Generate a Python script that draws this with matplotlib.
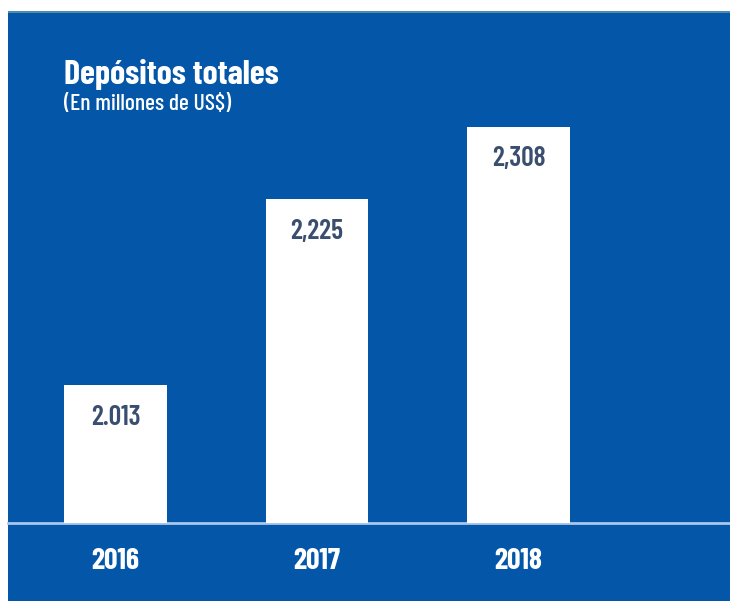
import matplotlib.pyplot as plt
from matplotlib.patches import Rectangle

years = ['2016', '2017', '2018']
deposits = [2013, 2225, 2308]
value_labels = ['2.013', '2,225', '2,308']

blue = '#0456a8'
plt.rcParams['font.family'] = ['Barlow Condensed', 'DejaVu Sans']
fig = plt.figure(figsize=(7.3, 6.01), dpi=100, facecolor='white')

# blue panel with thin line on top
fig.patches.append(Rectangle((8 / 730, 0), 722 / 730, 590 / 601, transform=fig.transFigure,
                             facecolor=blue, edgecolor='none', zorder=-2))
fig.patches.append(Rectangle((8 / 730, 588 / 601), 722 / 730, 2 / 601, transform=fig.transFigure,
                             facecolor='#4b8cb0', edgecolor='none', zorder=-1))

ax = fig.add_axes([8 / 730, 78 / 601, 722 / 730, 512 / 601])
ax.set_zorder(2)
ax.set_facecolor('none')
x = range(len(years))
ax.bar(x, deposits, width=0.51, color='white', zorder=3)
ax.set_xlim(-0.5335, 3.05)
ax.set_ylim(1856, 2440)
ax.axhline(1856, color='#a9c6ee', lw=2, zorder=2, clip_on=False)

for i, (v, lab) in enumerate(zip(deposits, value_labels)):
    ax.annotate(lab, (i, v), xytext=(0, -14), textcoords='offset points',
                ha='center', va='top', fontsize=20, fontweight='semibold', color='#3a4f6f')
    ax.annotate(years[i], (i, 1856), xytext=(0, -18), textcoords='offset points',
                ha='center', va='top', fontsize=21.5, fontweight='bold', color='white',
                annotation_clip=False)

for s in ax.spines.values():
    s.set_visible(False)
ax.set_xticks([])
ax.set_yticks([])

fig.text(64 / 730, 1 - 75 / 601, 'Depósitos totales', ha='left', va='center',
         fontsize=24.5, fontweight='bold', color='white')
fig.text(64 / 730, 1 - 104 / 601, '(En millones de US$)', ha='left', va='center',
         fontsize=17, fontweight='medium', color='white')

plt.savefig('out.png', dpi=100, facecolor='white')
